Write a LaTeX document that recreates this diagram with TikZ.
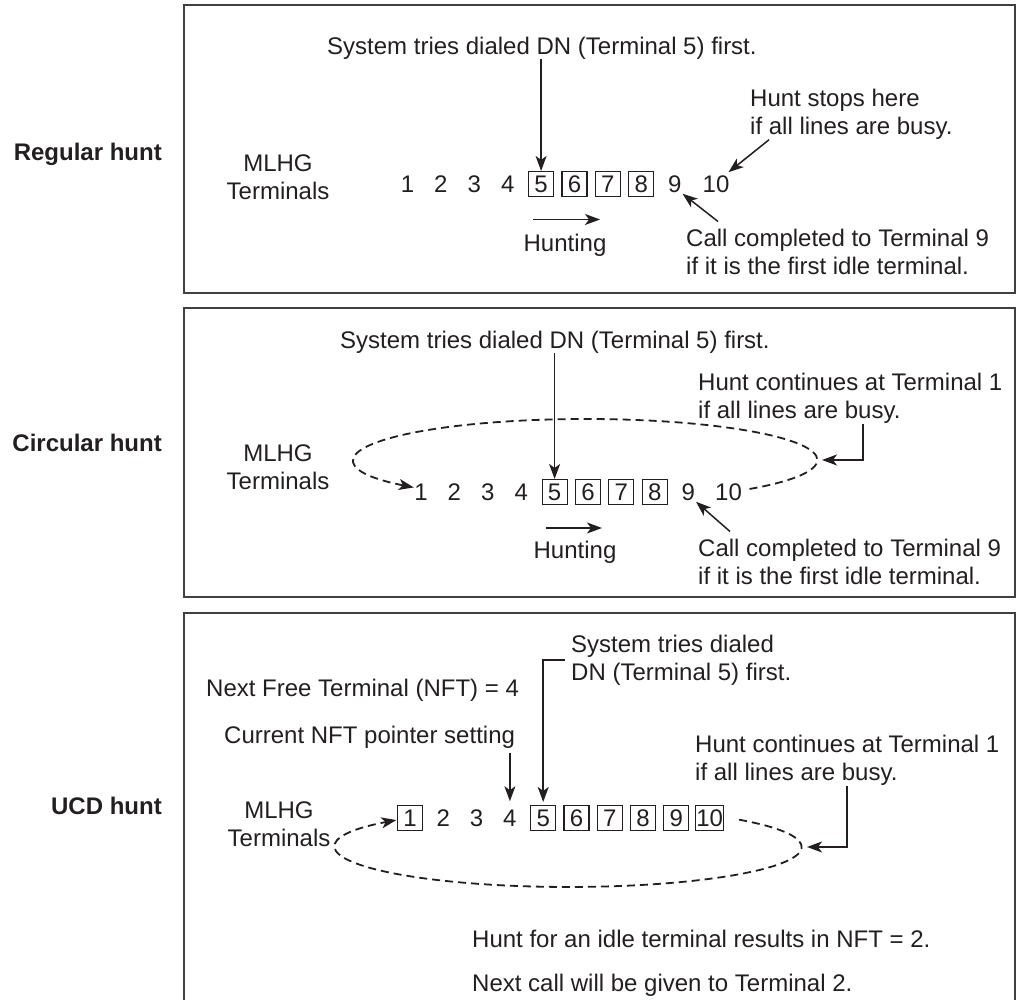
\documentclass[tikz,border=0pt]{standalone}
\usepackage{fontspec}
\setmainfont{Liberation Sans}
\usetikzlibrary{arrows.meta}
\definecolor{ink}{RGB}{35,31,32}

\begin{document}
\begin{tikzpicture}[x=1pt,y=1pt,>={Stealth[length=15pt,width=11pt,inset=4pt]},
  every node/.style={font=\fontsize{24}{28.5}\selectfont,text=ink,inner sep=0pt}]
  \tikzstyle{panel}=[draw=black!75,line width=1.5pt]
  \tikzstyle{term}=[inner sep=1pt,text height=17.2pt,text depth=0pt]
  \tikzstyle{busy}=[term,draw=ink,line width=1.1pt,inner sep=0.5pt,
                    minimum width=25pt,minimum height=25pt]
  \tikzstyle{note}=[anchor=north west,align=left]
  \tikzstyle{kind}=[anchor=north east,font=\fontsize{24}{28.5}\selectfont\bfseries]
  \tikzstyle{pointer}=[->,line width=1.5pt,draw=ink]
  \tikzstyle{wrap}=[->,dash pattern=on 8pt off 5pt,line width=1.8pt,draw=ink]

  \useasboundingbox (0,0) rectangle (1019,1000);

  % regular hunt
  \draw[panel] (184,707) rectangle (1015,995);
  \node[kind] (reg) at (162,857.5) {Regular hunt};
  \node[anchor=north,align=center] (mlhg1) at (278,845.5) {MLHG\\Terminals};
  \node[term] (p1n1) at (407.5,816) {1};
  \node[term] (p1n2) at (440.9,816) {2};
  \node[term] (p1n3) at (474.3,816) {3};
  \node[term] (p1n4) at (507.7,816) {4};
  \node[busy] (p1n5) at (541.1,816) {5};
  \node[busy] (p1n6) at (574.5,816) {6};
  \node[busy] (p1n7) at (607.9,816) {7};
  \node[busy] (p1n8) at (641.3,816) {8};
  \node[term] (p1n9) at (674.7,816) {9};
  \node[term] (p1n10) at (716,816) {10};
  \node[note] (sys1) at (327,963.5) {System tries dialed DN (Terminal 5) first.};
  \node[note] (stop1) at (750,911.5) {Hunt stops here\\if all lines are busy.};
  \node[anchor=north] (hunt1) at (565,766.5) {Hunting};
  \node[note] (call1) at (686,771.5) {Call completed to Terminal 9\\if it is the first idle terminal.};
  \draw[pointer] (sys1.south -| p1n5) -- (p1n5.north);
  \draw[pointer] ([xshift=19pt]stop1.south west) -- ([shift={(-2pt,2pt)}]p1n10.north east);
  \draw[pointer] ([shift={(32pt,7pt)}]call1.north west) -- (p1n9.south east);
  \draw[pointer] ([shift={(-32pt,14pt)}]hunt1.north) -- ([shift={(35pt,14pt)}]hunt1.north);

  % circular hunt
  \draw[panel] (184,403) rectangle (1015,692);
  \node[kind] (circ) at (162,566.5) {Circular hunt};
  \node[anchor=north,align=center] (mlhg2) at (278,555.5) {MLHG\\Terminals};
  \node[term] (p2n1) at (421,508) {1};
  \node[term] (p2n2) at (454.4,508) {2};
  \node[term] (p2n3) at (487.8,508) {3};
  \node[term] (p2n4) at (521.2,508) {4};
  \node[busy] (p2n5) at (554.6,508) {5};
  \node[busy] (p2n6) at (588,508) {6};
  \node[busy] (p2n7) at (621.4,508) {7};
  \node[busy] (p2n8) at (654.8,508) {8};
  \node[term] (p2n9) at (688.2,508) {9};
  \node[term] (p2n10) at (728.5,508) {10};
  \node[note] (sys2) at (340,669.5) {System tries dialed DN (Terminal 5) first.};
  \node[note] (cont2) at (698,627.5) {Hunt continues at Terminal 1\\if all lines are busy.};
  \node[anchor=north] (hunt2) at (575,459.5) {Hunting};
  \node[note] (call2) at (698,461.5) {Call completed to Terminal 9\\if it is the first idle terminal.};
  \coordinate (e2r) at (817,540);
  \draw[pointer] (sys2.south -| p2n5) -- (p2n5.north);
  \draw[pointer] ([xshift=165pt]cont2.south west) |- ([xshift=5pt]e2r);
  \draw[pointer] ([shift={(32pt,7pt)}]call2.north west) -- (p2n9.south east);
  \draw[pointer] ([shift={(-29pt,12.5pt)}]hunt2.north) -- ([shift={(27pt,12.5pt)}]hunt2.north);
  \draw[wrap] ([shift={(6.5pt,3pt)}]p2n10.east)
    arc[start angle=-45,end angle=222,x radius=231.5pt,y radius=41pt];

  % UCD hunt
  \draw[panel] (184,-3) rectangle (1015,387);
  \node[kind] (ucd) at (162,203.5) {UCD hunt};
  \node[anchor=north,align=center] (mlhg3) at (279,198.5) {MLHG\\Terminals};
  \node[busy] (p3n1) at (410,182) {1};
  \node[term] (p3n2) at (443.3,182) {2};
  \node[term] (p3n3) at (476.6,182) {3};
  \node[term] (p3n4) at (509.9,182) {4};
  \node[busy] (p3n5) at (543.2,182) {5};
  \node[busy] (p3n6) at (576.5,182) {6};
  \node[busy] (p3n7) at (609.8,182) {7};
  \node[busy] (p3n8) at (643.1,182) {8};
  \node[busy] (p3n9) at (676.4,182) {9};
  \node[busy] (p3n10) at (709.7,182) {10};
  \node[note] (sys3) at (571,365.5) {System tries dialed\\DN (Terminal 5) first.};
  \node[note] (nft3) at (206,321.5) {Next Free Terminal (NFT) = 4};
  \node[note] (cur3) at (224,274.5) {Current NFT pointer setting};
  \node[note] (cont3) at (695,265.5) {Hunt continues at Terminal 1\\if all lines are busy.};
  \node[note] (hint3) at (472,70.5) {Hunt for an idle terminal results in NFT = 2.};
  \node[note] (next3) at (472,26.5) {Next call will be given to Terminal 2.};
  \coordinate (e3r) at (801,153);
  \draw[pointer] ([xshift=-6pt]sys3.west) -| ([yshift=3pt]p3n5.north);
  \draw[pointer,shorten <=5pt] (cur3.south -| p3n4) -- ([yshift=7pt]p3n4.north);
  \draw[pointer] ([xshift=152pt]cont3.south west) |- ([xshift=6pt]e3r);
  \draw[wrap] ([shift={(15pt,-1.7pt)}]p3n10.east)
    arc[start angle=43,end angle=-222.3,x radius=233pt,y radius=40pt];
\end{tikzpicture}
\end{document}
